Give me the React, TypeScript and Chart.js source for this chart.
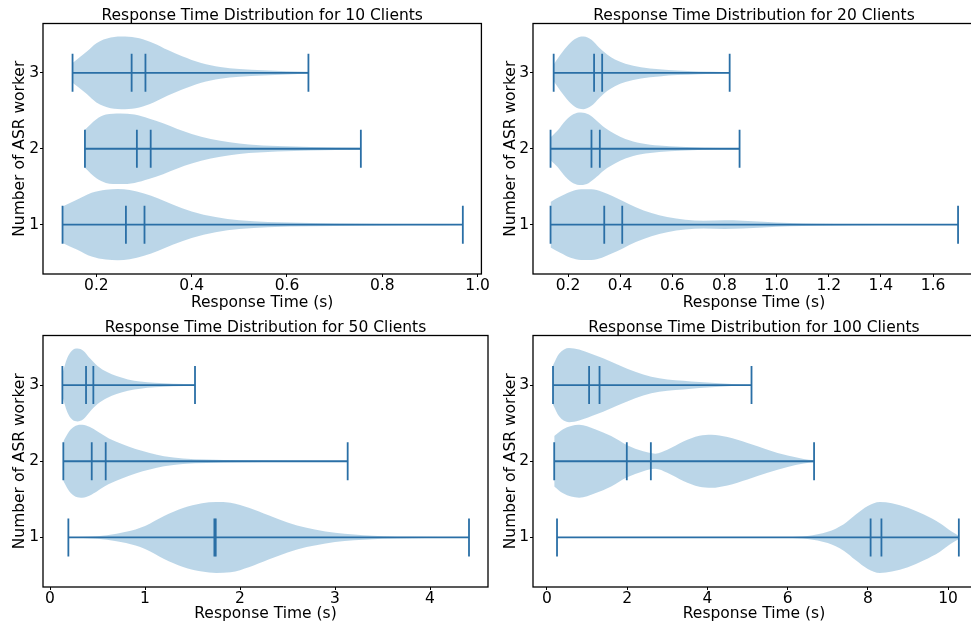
import React, { useEffect, useRef } from "react";
import { Chart, registerables } from "chart.js";

Chart.register(...registerables);

// ---------- data ----------
const workers = [1, 2, 3];
const yTickValues = [1, 2, 3];

// 10 clients
const c10Ticks = [0.2, 0.4, 0.6, 0.8, 1.0];
const c10W1Time = [0.129, 0.16, 0.19, 0.22, 0.245, 0.27, 0.3, 0.33, 0.36, 0.4, 0.45, 0.5, 0.56, 0.65, 0.75, 0.85, 0.969];
const c10W1Half = [0.24, 0.33, 0.42, 0.46, 0.47, 0.455, 0.41, 0.345, 0.265, 0.175, 0.1, 0.057, 0.035, 0.022, 0.013, 0.009, 0.005];
const c10W2Time = [0.176, 0.2, 0.22, 0.25, 0.28, 0.31, 0.34, 0.37, 0.4, 0.44, 0.48, 0.52, 0.58, 0.65, 0.755];
const c10W2Half = [0.25, 0.39, 0.45, 0.465, 0.45, 0.4, 0.335, 0.26, 0.195, 0.13, 0.087, 0.057, 0.035, 0.022, 0.013];
const c10W3Time = [0.15, 0.18, 0.2, 0.23, 0.26, 0.29, 0.32, 0.35, 0.38, 0.42, 0.46, 0.5, 0.55, 0.6, 0.645];
const c10W3Half = [0.13, 0.28, 0.39, 0.465, 0.478, 0.456, 0.39, 0.3, 0.22, 0.13, 0.078, 0.052, 0.035, 0.022, 0.013];
const c10Min = [0.129, 0.176, 0.15];
const c10Max = [0.969, 0.755, 0.645];
const c10Median = [0.262, 0.285, 0.274];
const c10Mean = [0.301, 0.314, 0.303];

// 20 clients
const c20Ticks = [0.2, 0.4, 0.6, 0.8, 1.0, 1.2, 1.4, 1.6];
const c20W1Time = [0.133, 0.17, 0.21, 0.25, 0.29, 0.33, 0.37, 0.41, 0.46, 0.52, 0.58, 0.65, 0.72, 0.8, 0.87, 0.95, 1.05, 1.15, 1.3, 1.5, 1.696];
const c20W1Half = [0.3, 0.37, 0.435, 0.465, 0.465, 0.435, 0.378, 0.313, 0.23, 0.152, 0.1, 0.065, 0.052, 0.057, 0.052, 0.039, 0.022, 0.013, 0.007, 0.004, 0.002];
const c20W2Time = [0.133, 0.16, 0.19, 0.22, 0.25, 0.28, 0.31, 0.34, 0.38, 0.42, 0.48, 0.55, 0.63, 0.72, 0.858];
const c20W2Half = [0.15, 0.24, 0.37, 0.455, 0.478, 0.45, 0.37, 0.28, 0.195, 0.13, 0.074, 0.043, 0.026, 0.013, 0.009];
const c20W3Time = [0.145, 0.18, 0.21, 0.24, 0.26, 0.29, 0.32, 0.35, 0.38, 0.42, 0.48, 0.55, 0.62, 0.7, 0.82];
const c20W3Half = [0.11, 0.28, 0.4, 0.47, 0.478, 0.435, 0.33, 0.24, 0.175, 0.12, 0.074, 0.048, 0.03, 0.017, 0.009];
const c20Min = [0.133, 0.133, 0.145];
const c20Max = [1.696, 0.858, 0.82];
const c20Median = [0.339, 0.29, 0.3];
const c20Mean = [0.408, 0.322, 0.331];

// 50 clients
const c50Ticks = [0, 1, 2, 3, 4];
const c50W1Time = [0.193, 0.4, 0.6, 0.8, 1.0, 1.2, 1.4, 1.6, 1.75, 1.9, 2.1, 2.3, 2.5, 2.7, 2.9, 3.1, 3.3, 3.5, 3.8, 4.41];
const c50W1Half = [0.005, 0.009, 0.03, 0.074, 0.152, 0.283, 0.387, 0.448, 0.465, 0.457, 0.387, 0.29, 0.196, 0.126, 0.078, 0.048, 0.03, 0.017, 0.009, 0.002];
const c50W2Time = [0.14, 0.2, 0.27, 0.34, 0.42, 0.5, 0.62, 0.75, 0.9, 1.05, 1.2, 1.4, 1.65, 2.0, 2.5, 3.133];
const c50W2Half = [0.26, 0.39, 0.465, 0.478, 0.448, 0.39, 0.3, 0.23, 0.16, 0.109, 0.065, 0.035, 0.022, 0.013, 0.007, 0.004];
const c50W3Time = [0.13, 0.18, 0.23, 0.29, 0.35, 0.42, 0.5, 0.6, 0.7, 0.82, 0.95, 1.1, 1.3, 1.526];
const c50W3Half = [0.15, 0.35, 0.45, 0.478, 0.45, 0.35, 0.25, 0.17, 0.117, 0.074, 0.048, 0.03, 0.017, 0.009];
const c50Min = [0.193, 0.14, 0.13];
const c50Max = [4.41, 3.133, 1.526];
const c50Median = [1.73, 0.439, 0.379];
const c50Mean = [1.744, 0.586, 0.456];

// 100 clients
const c100Ticks = [0, 2, 4, 6, 8, 10];
const c100W1Time = [0.25, 2.0, 4.0, 5.5, 6.0, 6.5, 7.0, 7.4, 7.7, 8.0, 8.3, 8.6, 9.0, 9.4, 9.8, 10.1, 10.27];
const c100W1Half = [0.002, 0.002, 0.002, 0.003, 0.006, 0.02, 0.074, 0.174, 0.3, 0.413, 0.465, 0.448, 0.39, 0.3, 0.187, 0.074, 0.02];
const c100W2Time = [0.18, 0.4, 0.8, 1.2, 1.6, 2.0, 2.4, 2.7, 3.0, 3.4, 3.8, 4.1, 4.5, 5.0, 5.5, 6.0, 6.4, 6.66];
const c100W2Half = [0.33, 0.42, 0.478, 0.42, 0.33, 0.21, 0.13, 0.1, 0.152, 0.26, 0.335, 0.348, 0.317, 0.24, 0.152, 0.074, 0.03, 0.013];
const c100W3Time = [0.15, 0.3, 0.55, 0.8, 1.1, 1.4, 1.8, 2.2, 2.6, 3.0, 3.4, 3.8, 4.2, 4.6, 5.1];
const c100W3Half = [0.26, 0.41, 0.487, 0.465, 0.41, 0.35, 0.26, 0.174, 0.109, 0.074, 0.057, 0.039, 0.026, 0.013, 0.004];
const c100Min = [0.25, 0.18, 0.15];
const c100Max = [10.27, 6.66, 5.1];
const c100Median = [8.07, 1.99, 1.05];
const c100Mean = [8.34, 2.59, 1.31];

// ---------- styling ----------
const FONT = "'DejaVu Sans', sans-serif";
const FSIZE = 15.5;
const FILL = "rgba(31,119,180,0.3)";
const LINE = "#2a6fa6";
const CAP = 0.25;

type Panel = {
  title: string;
  left: number; top: number; width: number; height: number;
  padRight: number; titleTop: number; yTitleTop: number;
  xAxisH: number; xTitleBottom: number;
  xMin: number; xMax: number; decimals: number;
  ticks: number[];
  times: number[][]; halves: number[][];
  mins: number[]; maxes: number[]; medians: number[]; means: number[];
};

const panels: Panel[] = [
  {
    title: "Response Time Distribution for 10 Clients",
    left: 0, top: 0, width: 490, height: 320, padRight: 3, titleTop: 8, yTitleTop: 11,
    xAxisH: 46, xTitleBottom: 8, xMin: 0.088, xMax: 1.008, decimals: 1, ticks: c10Ticks,
    times: [c10W1Time, c10W2Time, c10W3Time], halves: [c10W1Half, c10W2Half, c10W3Half],
    mins: c10Min, maxes: c10Max, medians: c10Median, means: c10Mean,
  },
  {
    title: "Response Time Distribution for 20 Clients",
    left: 490, top: 0, width: 485, height: 320, padRight: 0, titleTop: 8, yTitleTop: 12,
    xAxisH: 46, xTitleBottom: 8, xMin: 0.0657, xMax: 1.761, decimals: 1, ticks: c20Ticks,
    times: [c20W1Time, c20W2Time, c20W3Time], halves: [c20W1Half, c20W2Half, c20W3Half],
    mins: c20Min, maxes: c20Max, medians: c20Median, means: c20Mean,
  },
  {
    title: "Response Time Distribution for 50 Clients",
    left: 0, top: 310, width: 490, height: 316, padRight: 2, titleTop: 10, yTitleTop: 11,
    xAxisH: 39, xTitleBottom: 3, xMin: -0.074, xMax: 4.61, decimals: 0, ticks: c50Ticks,
    times: [c50W1Time, c50W2Time, c50W3Time], halves: [c50W1Half, c50W2Half, c50W3Half],
    mins: c50Min, maxes: c50Max, medians: c50Median, means: c50Mean,
  },
  {
    title: "Response Time Distribution for 100 Clients",
    left: 490, top: 310, width: 485, height: 316, padRight: 0, titleTop: 10, yTitleTop: 12,
    xAxisH: 39, xTitleBottom: 3, xMin: -0.349, xMax: 10.673, decimals: 0, ticks: c100Ticks,
    times: [c100W1Time, c100W2Time, c100W3Time], halves: [c100W1Half, c100W2Half, c100W3Half],
    mins: c100Min, maxes: c100Max, medians: c100Median, means: c100Mean,
  },
];

const framePlugin = {
  id: "frame",
  afterDatasetsDraw(chart: any) {
    const { ctx, chartArea: a } = chart;
    ctx.save();
    ctx.strokeStyle = "#000";
    ctx.lineWidth = 1.3;
    ctx.strokeRect(a.left, a.top, a.right - a.left, a.bottom - a.top);
    ctx.restore();
  },
};

function segment(points: { x: number; y: number }[]) {
  return {
    data: points,
    borderColor: LINE,
    borderWidth: 1.8,
    pointRadius: 0,
    fill: false,
    tension: 0,
    order: 0,
  };
}

function buildDatasets(p: Panel) {
  const ds: any[] = [];
  workers.forEach((k, i) => {
    const t = p.times[i];
    const h = p.halves[i];
    ds.push({
      data: t.map((v, j) => ({ x: v, y: k + h[j] })),
      borderColor: "rgba(0,0,0,0)",
      borderWidth: 0,
      pointRadius: 0,
      fill: false,
      cubicInterpolationMode: "monotone",
      order: 5,
    });
    ds.push({
      data: t.map((v, j) => ({ x: v, y: k - h[j] })),
      borderColor: "rgba(0,0,0,0)",
      borderWidth: 0,
      pointRadius: 0,
      fill: "-1",
      backgroundColor: FILL,
      cubicInterpolationMode: "monotone",
      order: 5,
    });
    ds.push(segment([{ x: p.mins[i], y: k }, { x: p.maxes[i], y: k }]));
    [p.mins[i], p.maxes[i], p.medians[i], p.means[i]].forEach((v) => {
      ds.push(segment([{ x: v, y: k - CAP }, { x: v, y: k + CAP }]));
    });
  });
  return ds;
}

function ViolinPanel({ p }: { p: Panel }) {
  const ref = useRef<HTMLCanvasElement>(null);
  useEffect(() => {
    if (!ref.current) return;
    const tickFont = { family: FONT, size: FSIZE };
    const chart = new Chart(ref.current, {
      type: "line",
      data: { datasets: buildDatasets(p) },
      plugins: [framePlugin],
      options: {
        animation: false,
        responsive: false,
        devicePixelRatio: 1,
        events: [],
        layout: { padding: { left: 0, right: p.padRight, top: 0, bottom: 0 } },
        plugins: {
          legend: { display: false },
          tooltip: { enabled: false },
          title: {
            display: true,
            fullSize: false,
            text: p.title,
            color: "#000",
            font: { family: FONT, size: FSIZE, weight: "normal", lineHeight: 1 },
            padding: { top: p.titleTop, bottom: 0 },
          },
        },
        scales: {
          x: {
            type: "linear",
            min: p.xMin,
            max: p.xMax,
            afterBuildTicks: (s: any) => {
              s.ticks = p.ticks.map((v) => ({ value: v }));
            },
            afterFit: (s: any) => {
              s.height = p.xAxisH;
            },
            ticks: {
              color: "#000",
              font: tickFont,
              padding: 0,
              maxRotation: 0,
              autoSkip: false,
              callback: (v: any) => Number(v).toFixed(p.decimals),
            },
            grid: { display: true, drawOnChartArea: false, drawTicks: true, tickLength: 3, color: "#000" },
            border: { display: false },
            title: {
              display: true,
              text: "Response Time (s)",
              color: "#000",
              font: { family: FONT, size: FSIZE, lineHeight: 1.2 },
              padding: { top: 0, bottom: p.xTitleBottom },
            },
          },
          y: {
            type: "linear",
            min: 0.35,
            max: 3.65,
            afterBuildTicks: (s: any) => {
              s.ticks = yTickValues.map((v) => ({ value: v }));
            },
            afterFit: (s: any) => {
              s.width = 43;
            },
            ticks: { color: "#000", font: tickFont, padding: 1, callback: (v: any) => String(v) },
            grid: { display: true, drawOnChartArea: false, drawTicks: true, tickLength: 3, color: "#000" },
            border: { display: false },
            title: {
              display: true,
              text: "Number of ASR worker",
              color: "#000",
              font: { family: FONT, size: FSIZE, lineHeight: 1.2 },
              padding: { top: p.yTitleTop, bottom: 0 },
            },
          },
        },
      } as any,
    });
    return () => chart.destroy();
  }, [p]);
  return (
    <canvas
      ref={ref}
      width={p.width}
      height={p.height}
      style={{ position: "absolute", left: p.left, top: p.top, width: p.width, height: p.height }}
    />
  );
}

export default function App() {
  return (
    <div
      style={{
        position: "absolute",
        left: 0,
        top: 0,
        width: 971,
        height: 626,
        overflow: "hidden",
        background: "#fff",
      }}
    >
      {panels.map((p) => (
        <ViolinPanel key={p.title} p={p} />
      ))}
    </div>
  );
}
